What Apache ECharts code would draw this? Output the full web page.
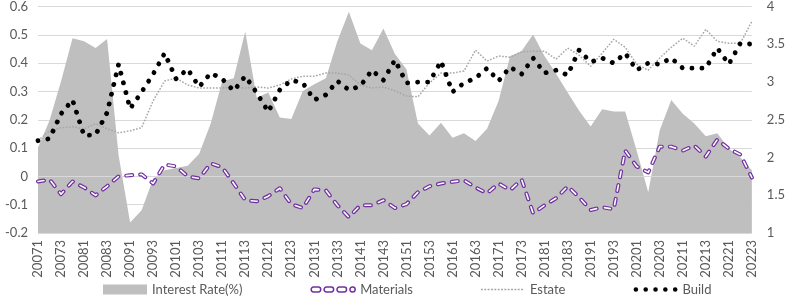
<!DOCTYPE html>
<html>
<head>
<meta charset="utf-8">
<script src="https://cdn.jsdelivr.net/npm/echarts@6/dist/echarts.min.js"></script>
<style>html,body{margin:0;padding:0;background:#fff}#c{width:788px;height:296px}</style>
</head>
<body>
<div id="c"></div>
<script>
const categories = ['20071','20072','20073','20074','20081','20082','20083','20084','20091','20092','20093','20094',
'20101','20102','20103','20104','20111','20112','20113','20114','20121','20122','20123','20124',
'20131','20132','20133','20134','20141','20142','20143','20144','20151','20152','20153','20154',
'20161','20162','20163','20164','20171','20172','20173','20174','20181','20182','20183','20184',
'20191','20192','20193','20194','20201','20202','20203','20204','20211','20212','20213','20214',
'20221','20222','20223'];

const interestRate = [2.13,2.49,3.01,3.58,3.54,3.45,3.57,2.03,1.14,1.30,1.72,1.83,
1.86,1.89,2.05,2.45,3.01,3.05,3.67,2.79,2.86,2.53,2.51,2.88,
2.97,3.05,3.54,3.93,3.51,3.42,3.71,3.37,3.17,2.45,2.29,2.46,
2.26,2.32,2.22,2.38,2.75,3.34,3.41,3.63,3.34,3.11,2.86,2.62,
2.41,2.64,2.61,2.61,2.09,1.54,2.36,2.76,2.58,2.45,2.28,2.32,
2.12,2.00,1.83];

const materials = [-0.018,-0.011,-0.063,-0.018,-0.039,-0.067,-0.035,0.000,0.004,0.007,-0.025,0.042,
0.035,0.000,-0.007,0.046,0.032,-0.025,-0.084,-0.088,-0.070,-0.042,-0.098,-0.112,
-0.046,-0.049,-0.102,-0.144,-0.102,-0.102,-0.084,-0.112,-0.098,-0.056,-0.035,-0.025,
-0.019,-0.014,-0.039,-0.060,-0.025,-0.049,-0.011,-0.130,-0.102,-0.077,-0.035,-0.074,
-0.119,-0.109,-0.116,0.091,0.035,0.014,0.105,0.105,0.091,0.109,0.070,0.130,
0.098,0.077,-0.004];

const estate = [0.126,0.161,0.172,0.175,0.168,0.186,0.168,0.154,0.161,0.172,0.267,0.337,
0.347,0.323,0.312,0.312,0.312,0.316,0.312,0.316,0.312,0.323,0.344,0.354,
0.354,0.365,0.365,0.358,0.323,0.312,0.316,0.302,0.284,0.281,0.330,0.365,
0.365,0.372,0.446,0.407,0.425,0.421,0.439,0.442,0.442,0.414,0.453,0.428,
0.389,0.435,0.484,0.456,0.396,0.375,0.418,0.456,0.488,0.460,0.519,0.477,
0.470,0.470,0.547];

const build = [0.126,0.133,0.221,0.270,0.144,0.147,0.225,0.396,0.239,0.298,0.361,0.435,
0.344,0.379,0.316,0.365,0.344,0.302,0.354,0.295,0.228,0.305,0.340,0.330,
0.270,0.288,0.337,0.305,0.319,0.375,0.340,0.411,0.330,0.333,0.333,0.407,
0.298,0.330,0.347,0.382,0.337,0.386,0.361,0.418,0.365,0.375,0.358,0.446,
0.404,0.418,0.400,0.435,0.375,0.400,0.396,0.418,0.382,0.382,0.382,0.453,
0.396,0.470,0.467];

const leftTicks = [-0.2,-0.1,0,0.1,0.2,0.3,0.4,0.5,0.6];
const rightTicks = [1,1.5,2,2.5,3,3.5,4];

const FONT = 'Lato';
const TXT = '#595959';
const PURPLE = '#7030A0';

function pill(a, b) {
  return 'M' + (a + 2.5) + ' 2.5 L' + (b - 2.5) + ' 2.5 A2.5 2.5 0 0 1 ' + (b - 2.5) + ' 7.5 L' + (a + 2.5) + ' 7.5 A2.5 2.5 0 0 1 ' + (a + 2.5) + ' 2.5 Z ';
}
const materialsIcon = 'path://M0 0 M46 10 ' + pill(0, 10) + pill(13.5, 23.5) + pill(27, 37) + pill(40.5, 46);
let estateIcon = 'path://M0 0 M46 10 ';
for (let x = 0; x < 44; x += 3.5) estateIcon += 'M' + x + ' 4.3 h2 v1.5 h-2 Z ';
let buildIcon = 'path://M0 0 M46 10 ';
for (let k = 0; k < 5; k++) {
  const cx = 2.5 + 10.3 * k, r = 2.4;
  buildIcon += 'M' + (cx - r) + ' 5 A' + r + ' ' + r + ' 0 1 0 ' + (cx + r) + ' 5 A' + r + ' ' + r + ' 0 1 0 ' + (cx - r) + ' 5 Z ';
}

const chart = echarts.init(document.getElementById('c'), null, {renderer: 'canvas'});
chart.setOption({
  animation: false,
  textStyle: {fontFamily: FONT},
  grid: {left: 38, right: 33, top: 5, bottom: 63, containLabel: false},
  legend: {
    left: 98, top: 278, itemWidth: 44, itemHeight: 10, itemGap: 68,
    textStyle: {color: TXT, fontSize: 13, fontFamily: FONT},
    data: [
      {name: 'Interest Rate(%)', icon: 'rect', itemStyle: {color: '#BFBFBF'}},
      {name: 'Materials', icon: materialsIcon, itemStyle: {color: '#ffffff', borderColor: PURPLE, borderWidth: 1.5}},
      {name: 'Estate', icon: estateIcon, itemStyle: {color: '#A6A6A6', borderWidth: 0}},
      {name: 'Build', icon: buildIcon, itemStyle: {color: '#000000', borderWidth: 0}}
    ]
  },
  xAxis: [{
    type: 'category', data: categories, boundaryGap: false,
    axisLine: {show: false}, axisTick: {show: false},
    axisLabel: {interval: 1, rotate: 90, margin: 7, color: TXT, fontSize: 13, fontFamily: FONT},
    splitLine: {show: false}
  }, {
    type: 'category', data: categories, boundaryGap: false, position: 'bottom', z: 1.5,
    axisLine: {show: true, onZero: true, onZeroAxisIndex: 0, lineStyle: {color: '#D9D9D9', width: 1}},
    axisTick: {show: false}, axisLabel: {show: false}, splitLine: {show: false}
  }],
  yAxis: [{
    type: 'value', min: leftTicks[0], max: leftTicks[leftTicks.length - 1], interval: 0.1,
    axisLine: {show: false}, axisTick: {show: false},
    axisLabel: {color: TXT, fontSize: 13, margin: 10, fontFamily: FONT},
    splitLine: {show: true, lineStyle: {color: '#D9D9D9', width: 1}}
  }, {
    type: 'value', min: rightTicks[0], max: rightTicks[rightTicks.length - 1], interval: 0.5, position: 'right',
    axisLine: {show: false}, axisTick: {show: false},
    axisLabel: {color: TXT, fontSize: 13, margin: 15, fontFamily: FONT},
    splitLine: {show: false}
  }],
  series: [
    {
      name: 'Interest Rate(%)', type: 'line', yAxisIndex: 1, data: interestRate, z: 1,
      symbol: 'none', lineStyle: {width: 0}, itemStyle: {color: '#BFBFBF'},
      areaStyle: {color: '#BFBFBF', opacity: 1, origin: 'start'}
    },
    {
      name: 'Materials', type: 'line', yAxisIndex: 0, data: materials, z: 2,
      symbol: 'none', itemStyle: {color: PURPLE},
      lineStyle: {color: PURPLE, width: 4, type: [6, 8], cap: 'round', join: 'round'}
    },
    {
      name: 'MaterialsInner', type: 'line', yAxisIndex: 0, data: materials, z: 2,
      symbol: 'none', itemStyle: {color: '#ffffff'},
      lineStyle: {color: '#ffffff', width: 1.6, type: [6, 8], cap: 'round', join: 'round'}
    },
    {
      name: 'Estate', type: 'line', yAxisIndex: 0, data: estate, z: 2,
      symbol: 'none', itemStyle: {color: '#A6A6A6'},
      lineStyle: {color: '#A6A6A6', width: 1.5, type: [1.6, 1.6]}
    },
    {
      name: 'Build', type: 'line', yAxisIndex: 0, data: build, z: 2,
      symbol: 'none', itemStyle: {color: '#000000'},
      lineStyle: {color: '#000000', width: 4.8, type: [0.1, 9.9], cap: 'round', join: 'round'}
    }
  ]
});
</script>
</body>
</html>
